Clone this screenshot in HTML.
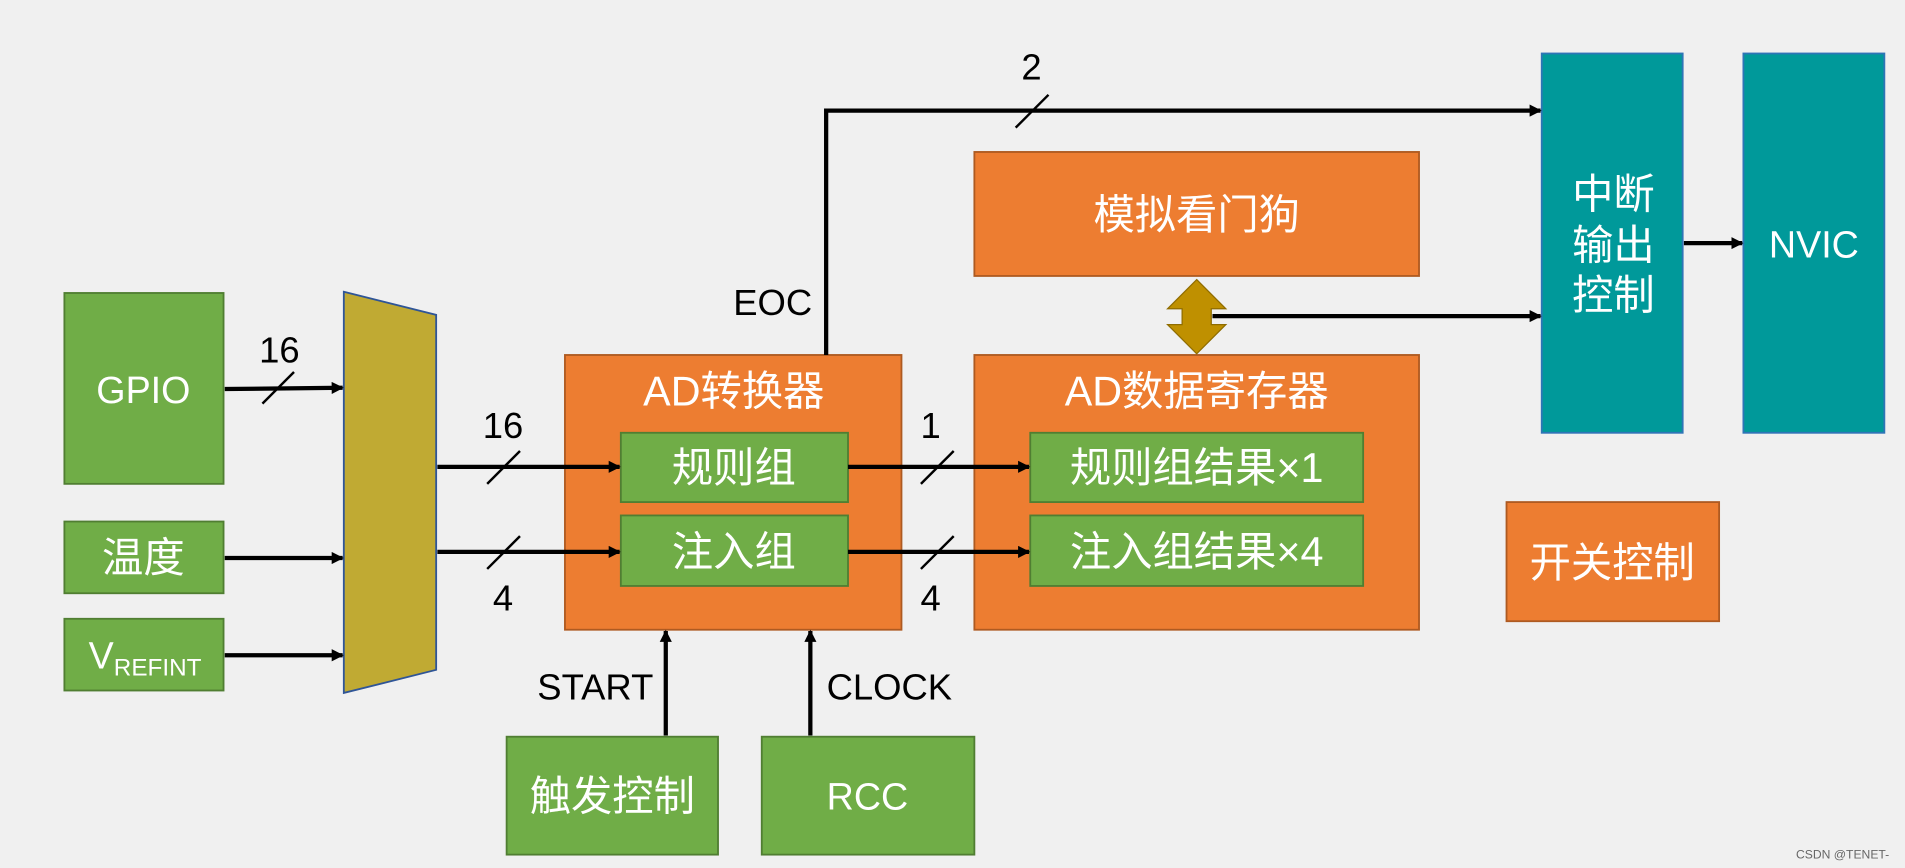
<!DOCTYPE html>
<html><head><meta charset="utf-8"><style>
html,body{margin:0;padding:0;background:#f0f0f0;}
svg{display:block;}
text{font-family:"Liberation Sans","Noto Sans CJK SC",sans-serif;}
</style></head><body>
<svg width="1905" height="868" viewBox="0 0 1568 714" preserveAspectRatio="none" xmlns="http://www.w3.org/2000/svg">
<defs>
<marker id="a" markerWidth="10" markerHeight="10" refX="9" refY="5" orient="auto" markerUnits="userSpaceOnUse"><path d="M0,0 L10,5 L0,10 z" fill="#000"/></marker>
</defs>
<rect width="1568" height="714" fill="#f0f0f0"/>
<g stroke-width="1.5">
<rect x="53" y="241" width="131" height="157" fill="#70ad47" stroke="#507e32"/>
<rect x="53" y="429" width="131" height="59" fill="#70ad47" stroke="#507e32"/>
<rect x="53" y="509" width="131" height="59" fill="#70ad47" stroke="#507e32"/>
<polygon points="283,240 359,259 359,551 283,570" fill="#c0aa33" stroke="#2f5597"/>
<rect x="465" y="292" width="277" height="226" fill="#ed7d31" stroke="#ae5a21"/>
<rect x="511" y="356" width="187" height="57" fill="#70ad47" stroke="#507e32"/>
<rect x="511" y="424" width="187" height="58" fill="#70ad47" stroke="#507e32"/>
<rect x="802" y="292" width="366" height="226" fill="#ed7d31" stroke="#ae5a21"/>
<rect x="848" y="356" width="274" height="57" fill="#70ad47" stroke="#507e32"/>
<rect x="848" y="424" width="274" height="58" fill="#70ad47" stroke="#507e32"/>
<rect x="802" y="125" width="366" height="102" fill="#ed7d31" stroke="#ae5a21"/>
<rect x="1269" y="44" width="116" height="312" fill="#00999a" stroke="#2e75b6"/>
<rect x="1435" y="44" width="116" height="312" fill="#00999a" stroke="#2e75b6"/>
<rect x="1240" y="413" width="175" height="98" fill="#ed7d31" stroke="#ae5a21"/>
<rect x="417" y="606" width="174" height="97" fill="#70ad47" stroke="#507e32"/>
<rect x="627" y="606" width="175" height="97" fill="#70ad47" stroke="#507e32"/>
</g>
<polygon points="985,230 1009,254 997,254 997,267 1009,267 985,291 961,267 973,267 973,254 961,254" fill="#bf9000" stroke="#8f6c00" stroke-width="1"/>
<g stroke="#000" stroke-width="3.5" fill="none">
<line x1="185" y1="320" x2="282" y2="319" marker-end="url(#a)"/>
<line x1="185" y1="459" x2="282" y2="459" marker-end="url(#a)"/>
<line x1="185" y1="539" x2="282" y2="539" marker-end="url(#a)"/>
<line x1="360" y1="384" x2="510" y2="384" marker-end="url(#a)"/>
<line x1="360" y1="454" x2="510" y2="454" marker-end="url(#a)"/>
<line x1="698" y1="384" x2="847" y2="384" marker-end="url(#a)"/>
<line x1="698" y1="454" x2="847" y2="454" marker-end="url(#a)"/>
<polyline points="680,292 680,91 1268,91" marker-end="url(#a)"/>
<line x1="998" y1="260" x2="1268" y2="260" marker-end="url(#a)"/>
<line x1="1386" y1="200" x2="1434" y2="200" marker-end="url(#a)"/>
<line x1="548" y1="605" x2="548" y2="519" marker-end="url(#a)"/>
<line x1="667" y1="605" x2="667" y2="519" marker-end="url(#a)"/>
</g>
<g stroke="#000" stroke-width="2">
<line x1="216" y1="332" x2="242" y2="306"/>
<line x1="401" y1="398" x2="428" y2="371"/>
<line x1="401" y1="468" x2="428" y2="441"/>
<line x1="758" y1="398" x2="785" y2="371"/>
<line x1="758" y1="468" x2="785" y2="441"/>
<line x1="836" y1="105" x2="863" y2="78"/>
</g>
<g font-size="31" fill="#fff" text-anchor="middle" dominant-baseline="central">
<text x="118" y="321">GPIO</text>
<text x="73" y="539" text-anchor="start">V<tspan font-size="20" dy="10">REFINT</tspan></text>
<text x="1493" y="201">NVIC</text>
<text x="714" y="655">RCC</text>
</g>
<g font-size="34" fill="#fff" text-anchor="middle" dominant-baseline="central">
<text x="118" y="459">温度</text>
<text x="604" y="322">AD转换器</text>
<text x="604" y="385">规则组</text>
<text x="604" y="454">注入组</text>
<text x="985" y="322">AD数据寄存器</text>
<text x="985" y="385">规则组结果×1</text>
<text x="985" y="454">注入组结果×4</text>
<text x="985" y="177">模拟看门狗</text>
<text x="1328" y="160">中断</text>
<text x="1328" y="202">输出</text>
<text x="1328" y="243">控制</text>
<text x="1327" y="463">开关控制</text>
<text x="504" y="655">触发控制</text>
</g>
<g font-size="30" fill="#000" text-anchor="middle" dominant-baseline="central">
<text x="230" y="288">16</text>
<text x="414" y="350">16</text>
<text x="414" y="492">4</text>
<text x="766" y="350">1</text>
<text x="766" y="492">4</text>
<text x="849" y="55">2</text>
<text x="636" y="249">EOC</text>
<text x="490" y="565">START</text>
<text x="732" y="565">CLOCK</text>
</g>
<text x="1555" y="706" font-size="10" fill="#666" text-anchor="end">CSDN @TENET-</text>
</svg>
</body></html>
